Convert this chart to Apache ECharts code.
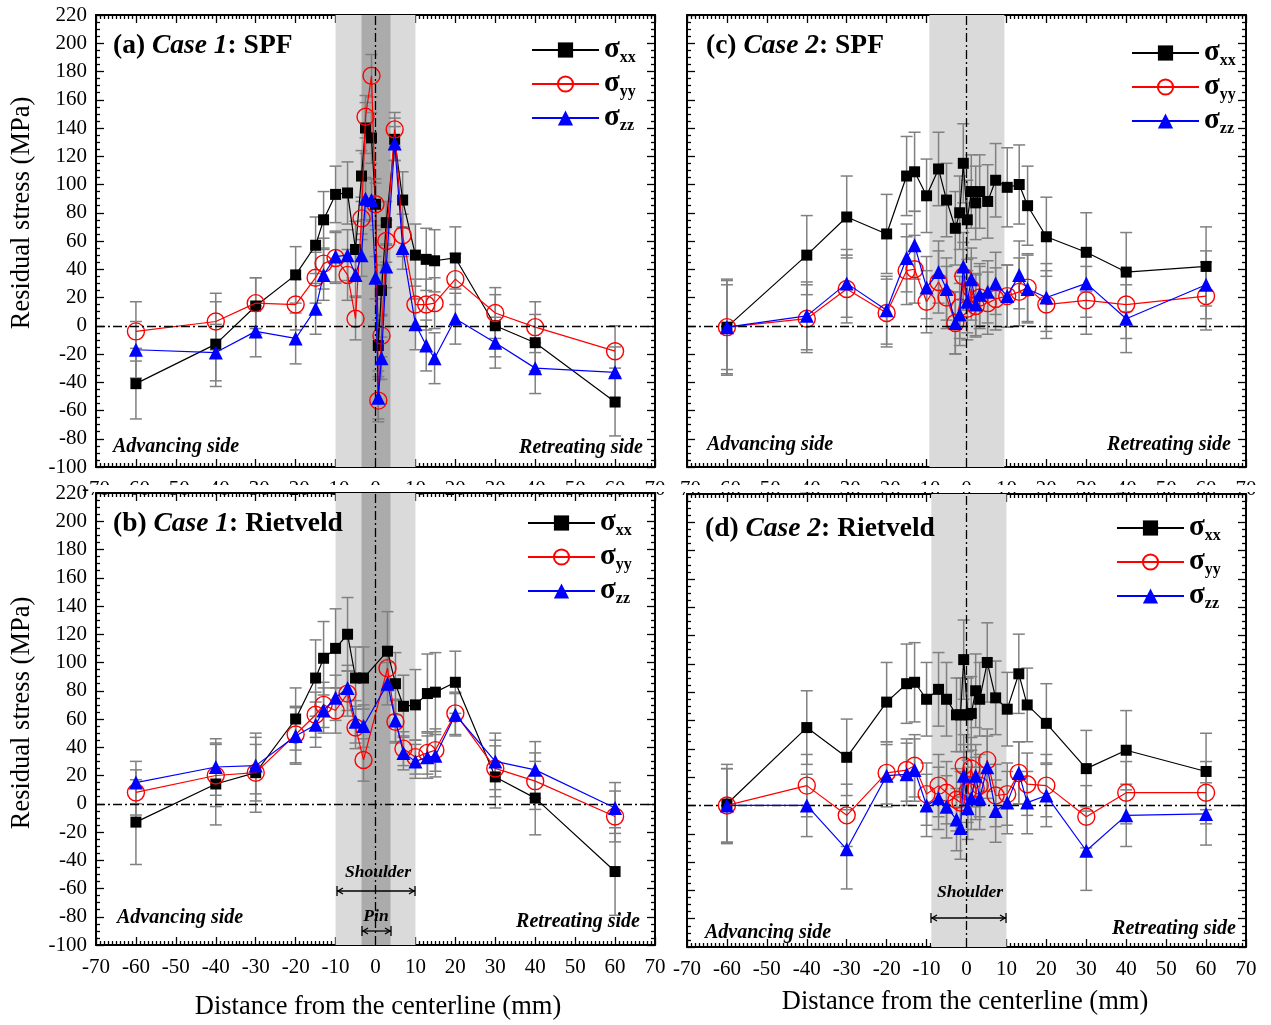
<!DOCTYPE html>
<html>
<head>
<meta charset="UTF-8">
<title>Residual stress</title>
<script src="https://cdn.jsdelivr.net/npm/echarts@6/dist/echarts.min.js"></script>
<style>
html, body { margin: 0; padding: 0; background: #fff; }
#main { width: 1271px; height: 1025px; }
</style>
</head>
<body>
<div id="main"></div>
<script>
// (a) Case 1: SPF
var xA  = [-60, -40, -30, -20, -15, -13, -10, -7, -5, -3.5, -2.5, -1, 0, 0.7, 1.5, 2.7, 4.8, 6.8, 10, 12.7, 14.8, 20, 30, 40, 60];
var xxA = [-41, -13, 14, 36, 57, 75, 93, 94, 54, 106, 140, 133, 86, -14, 25, 73, 132, 89, 50, 47, 46, 48, 0, -12, -54];
var yyA = [-4, 3, 16, 15, 34, 44, 48, 36, 5, 76, 148, 177, 86, -53, -7, 60, 139, 64, 15, 15, 16, 33, 9, -1, -18];
var zzA = [-17, -19, -4, -9, 12, 36, 49, 50, 36, 50, 90, 89, 34, -51, -23, 42, 129, 55, 1, -14, -23, 5, -12, -30, -33];
var exA = [25, 30, 20, 20, 20, 20, 20, 22, 20, 18, 18, 18, 18, 18, 18, 15, 15, 20, 22, 22, 22, 22, 22, 20, 24];
var eyA = [21, 20, 18, 18, 18, 18, 18, 18, 15, 15, 15, 15, 15, 15, 15, 15, 12, 15, 18, 18, 18, 18, 18, 18, 18];
var ezA = [20, 20, 18, 18, 18, 18, 18, 18, 15, 15, 15, 15, 15, 15, 15, 15, 12, 15, 18, 18, 18, 18, 18, 18, 18];

// (b) Case 1: Rietveld
var xB  = [-60, -40, -30, -20, -15, -13, -10, -7, -5, -3, 3, 5, 7, 10, 13, 15, 20, 30, 40, 60];
var xxB = [-13, 14, 22, 60, 89, 103, 110, 120, 89, 89, 108, 85, 69, 70, 78, 79, 86, 19, 4, -48];
var yyB = [8, 20, 22, 49, 63, 70, 66, 78, 54, 31, 96, 58, 39, 33, 36, 38, 64, 25, 16, -9];
var zzB = [15, 26, 27, 48, 56, 66, 75, 82, 58, 55, 85, 59, 36, 30, 33, 34, 63, 30, 24, -3];
var exB = [30, 29, 28, 22, 27, 26, 28, 26, 22, 22, 28, 22, 22, 25, 28, 28, 22, 22, 26, 31];
var eyB = [16, 22, 20, 20, 16, 16, 16, 16, 15, 15, 15, 15, 12, 12, 15, 15, 15, 20, 20, 18];
var ezB = [15, 20, 20, 20, 16, 16, 16, 16, 15, 15, 15, 15, 12, 12, 15, 15, 15, 20, 20, 18];

// (c) Case 2: SPF
var xC  = [-60, -40, -30, -20, -15, -13, -10, -7, -5, -2.8, -1.7, -0.8, 0.2, 1.2, 2.3, 3.3, 5.3, 7.3, 10.2, 13.2, 15.3, 20, 30, 40, 60];
var xxC = [-1, 50, 77, 65, 106, 109, 92, 111, 89, 69, 80, 115, 75, 95, 87, 95, 88, 103, 98, 100, 85, 63, 52, 38, 42];
var yyC = [-1, 5, 26, 9, 39, 40, 17, 31, 20, 2, 13, 35, 12, 26, 14, 20, 16, 19, 21, 24, 27, 15, 18, 15, 21];
var zzC = [-1, 7, 30, 11, 48, 57, 27, 38, 26, 2, 8, 42, 17, 33, 15, 22, 24, 30, 21, 36, 26, 20, 30, 5, 29];
var exC = [34, 28, 29, 28, 28, 28, 26, 26, 26, 26, 26, 28, 28, 26, 26, 26, 26, 26, 28, 28, 28, 28, 28, 28, 28];
var eyC = [33, 24, 24, 24, 24, 24, 22, 22, 22, 22, 22, 24, 22, 22, 22, 22, 22, 22, 22, 24, 24, 24, 24, 24, 24];
var ezC = [30, 24, 24, 24, 24, 24, 22, 22, 22, 22, 22, 24, 22, 22, 22, 22, 22, 22, 22, 24, 24, 24, 24, 24, 24];

// (d) Case 2: Rietveld
var xD  = [-60, -40, -30, -20, -15, -13, -10, -7, -5, -2.5, -1.5, -0.7, 0.3, 1.2, 2.3, 3.3, 5.2, 7.3, 10.2, 13.1, 15.2, 20, 30, 40, 60];
var xxD = [1, 55, 34, 73, 86, 87, 75, 82, 75, 64, 64, 103, 64, 65, 81, 75, 101, 76, 68, 93, 71, 58, 26, 39, 24];
var yyD = [0, 14, -7, 23, 25, 28, 8, 14, 9, 4, 2, 28, 10, 26, 12, 14, 32, 7, 8, 23, 15, 14, -8, 9, 9];
var zzD = [0, 0, -31, 21, 22, 25, 0, 5, -1, -10, -16, 21, -2, 5, 21, 5, 27, -4, 2, 23, 2, 7, -32, -7, -6];
var exD = [28, 26, 27, 28, 28, 28, 26, 26, 26, 26, 26, 28, 26, 26, 26, 26, 28, 26, 26, 28, 26, 28, 27, 28, 27];
var eyD = [26, 22, 22, 22, 22, 22, 22, 22, 22, 22, 22, 22, 22, 22, 22, 22, 22, 22, 22, 22, 22, 22, 22, 22, 22];
var ezD = [26, 22, 28, 22, 22, 22, 22, 22, 22, 22, 22, 22, 22, 22, 22, 22, 22, 22, 22, 22, 22, 22, 28, 22, 22];

var SERIF = '"Liberation Serif", "DejaVu Serif", serif';

var panels = [
	{ x: xA, xx: xxA, yy: yyA, zz: zzA, ex: exA, ey: eyA, ez: ezA, grid: { left: 96, top: 15, width: 559, height: 452 }, pin: [-3.5, 3.75], shoulder: [-10, 10], yLabels: true, legend: [526, 27] },
	{ x: xB, xx: xxB, yy: yyB, zz: zzB, ex: exB, ey: eyB, ez: ezB, grid: { left: 96, top: 493, width: 559, height: 452 }, pin: [-3.5, 3.75], shoulder: [-10, 10], yLabels: true, legend: [522, 500] },
	{ x: xC, xx: xxC, yy: yyC, zz: zzC, ex: exC, ey: eyC, ez: ezC, grid: { left: 687, top: 15, width: 559, height: 452 }, pin: null, shoulder: [-9.3, 9.5], yLabels: false, legend: [1126, 30] },
	{ x: xD, xx: xxD, yy: yyD, zz: zzD, ex: exD, ey: eyD, ez: ezD, grid: { left: 687, top: 494, width: 559, height: 453 }, pin: null, shoulder: [-8.8, 10], yLabels: false, legend: [1111, 505] }
];

function zip2(xs, ys) {
	var out = [];
	for (var i = 0; i < xs.length; i++) out.push([xs[i], ys[i]]);
	return out;
}
function zip3(xs, ys, es) {
	var out = [];
	for (var i = 0; i < xs.length; i++) out.push([xs[i], ys[i], es[i]]);
	return out;
}

function renderErr(params, api) {
	var x = api.value(0), y = api.value(1), e = api.value(2);
	var hi = api.coord([x, y + e]);
	var lo = api.coord([x, y - e]);
	var w = 6;
	var st = { stroke: '#808080', lineWidth: 1.5 };
	return {
		type: 'group',
		children: [
			{ type: 'line', shape: { x1: hi[0], y1: hi[1], x2: lo[0], y2: lo[1] }, style: st },
			{ type: 'line', shape: { x1: hi[0] - w, y1: hi[1], x2: hi[0] + w, y2: hi[1] }, style: st },
			{ type: 'line', shape: { x1: lo[0] - w, y1: lo[1], x2: lo[0] + w, y2: lo[1] }, style: st }
		]
	};
}

var grids = [], xAxes = [], yAxes = [], series = [], legends = [];
var tickStyle = { color: '#000', width: 1.3 };

panels.forEach(function (p, g) {
	grids.push(p.grid);
	xAxes.push({
		gridIndex: g, type: 'value', min: -70, max: 70, interval: 10, position: 'bottom',
		axisLine: { onZero: false, lineStyle: { color: '#000', width: 2 } },
		axisTick: { inside: true, length: 8, lineStyle: tickStyle },
		minorTick: { show: true, splitNumber: 10, length: 4, lineStyle: tickStyle },
		axisLabel: { show: true, fontFamily: SERIF, fontSize: 21, color: '#000', margin: 12 },
		splitLine: { show: false }
	});
	xAxes.push({
		gridIndex: g, type: 'value', min: -70, max: 70, interval: 10, position: 'top',
		axisLine: { onZero: false, lineStyle: { color: '#000', width: 2 } },
		axisTick: { inside: true, length: 8, lineStyle: tickStyle },
		minorTick: { show: true, splitNumber: 10, length: 4, lineStyle: tickStyle },
		axisLabel: { show: false },
		splitLine: { show: false }
	});
	yAxes.push({
		gridIndex: g, type: 'value', min: -100, max: 220, interval: 20, position: 'left',
		axisLine: { onZero: false, lineStyle: { color: '#000', width: 2 } },
		axisTick: { inside: true, length: 8, lineStyle: tickStyle },
		minorTick: { show: true, splitNumber: 4, length: 4, lineStyle: tickStyle },
		axisLabel: { show: p.yLabels, fontFamily: SERIF, fontSize: 21, color: '#000', margin: 9 },
		splitLine: { show: false }
	});
	yAxes.push({
		gridIndex: g, type: 'value', min: -100, max: 220, interval: 20, position: 'right',
		axisLine: { onZero: false, lineStyle: { color: '#000', width: 2 } },
		axisTick: { inside: true, length: 8, lineStyle: tickStyle },
		minorTick: { show: true, splitNumber: 4, length: 4, lineStyle: tickStyle },
		axisLabel: { show: false },
		splitLine: { show: false }
	});

	var xi = g * 2, yi = g * 2;

	// shaded tool regions
	var areas = [[{ xAxis: p.shoulder[0], itemStyle: { color: '#dadada' } }, { xAxis: p.shoulder[1] }]];
	if (p.pin) areas.push([{ xAxis: p.pin[0], itemStyle: { color: '#ababab' } }, { xAxis: p.pin[1] }]);
	series.push({
		type: 'line', xAxisIndex: xi, yAxisIndex: yi, data: [], z: 0, silent: true,
		markArea: { silent: true, data: areas }
	});
	// centre and zero lines
	series.push({
		type: 'line', xAxisIndex: xi, yAxisIndex: yi, data: [], z: 1, silent: true,
		markLine: {
			silent: true, symbol: 'none', label: { show: false },
			lineStyle: { color: '#000', width: 1.3, type: [9, 3, 2, 3] },
			data: [{ xAxis: 0 }, { yAxis: 0 }]
		}
	});

	// error bars
	[[p.xx, p.ex], [p.yy, p.ey], [p.zz, p.ez]].forEach(function (s) {
		series.push({
			type: 'custom', xAxisIndex: xi, yAxisIndex: yi, z: 2, silent: true,
			renderItem: renderErr, data: zip3(p.x, s[0], s[1])
		});
	});

	series.push({
		name: 'xx', type: 'line', xAxisIndex: xi, yAxisIndex: yi, z: 3,
		data: zip2(p.x, p.xx), symbol: 'rect', symbolSize: 11,
		itemStyle: { color: '#000' }, lineStyle: { color: '#000', width: 1.2 }
	});
	series.push({
		name: 'yy', type: 'line', xAxisIndex: xi, yAxisIndex: yi, z: 4,
		data: zip2(p.x, p.yy), symbol: 'circle', symbolSize: 17,
		itemStyle: { color: 'rgba(255,255,255,0)', borderColor: '#ff0000', borderWidth: 1.4 },
		lineStyle: { color: '#ff0000', width: 1.2 }
	});
	series.push({
		name: 'zz', type: 'line', xAxisIndex: xi, yAxisIndex: yi, z: 5,
		data: zip2(p.x, p.zz), symbol: 'triangle', symbolSize: 14,
		itemStyle: { color: '#0000ff' }, lineStyle: { color: '#0000ff', width: 1.2 }
	});

	legends.push({
		left: p.legend[0], top: p.legend[1], orient: 'vertical', selectedMode: false,
		itemWidth: 67, itemHeight: 19, itemGap: 0,
		data: ['xx', 'yy', 'zz'],
		formatter: function (n) { return '{s|σ}{t|' + n + '}'; },
		textStyle: {
			rich: {
				s: { fontFamily: SERIF, fontSize: 29, fontWeight: 'bold', color: '#000', lineHeight: 32 },
				t: { fontFamily: SERIF, fontSize: 16, fontWeight: 'bold', color: '#000', lineHeight: 16, verticalAlign: 'bottom', padding: [18, 0, 0, 0] }
			}
		}
	});
});

function txt(x, y, text, opts) {
	var style = { x: 0, y: 0, text: text, fill: '#000', font: opts.font, textAlign: opts.align || 'left', textVerticalAlign: 'middle' };
	if (opts.rich) style.rich = opts.rich;
	var el = { type: 'text', z: 100, x: x, y: y, style: style };
	if (opts.rotation) el.rotation = opts.rotation;
	return el;
}

var titleRich = {
	n: { fontFamily: SERIF, fontSize: 27.5, fontWeight: 'bold', color: '#000' },
	i: { fontFamily: SERIF, fontSize: 27.5, fontWeight: 'bold', fontStyle: 'italic', color: '#000' }
};
var sideFont = 'italic bold 20px ' + SERIF;
var axisFont = '26.5px ' + SERIF;
var toolFont = 'italic bold 17.5px ' + SERIF;

var graphics = [
	// hides most of the top panels' tick labels, as in the original figure
	{ type: 'rect', z: 50, shape: { x: 92, y: 485, width: 1179, height: 7 }, style: { fill: '#fff' } },

	txt(113, 46, '{n|(a) }{i|Case 1}{n|: SPF}', { rich: titleRich }),
	txt(113, 524, '{n|(b) }{i|Case 1}{n|: Rietveld}', { rich: titleRich }),
	txt(706, 46, '{n|(c) }{i|Case 2}{n|: SPF}', { rich: titleRich }),
	txt(705, 529, '{n|(d) }{i|Case 2}{n|: Rietveld}', { rich: titleRich }),

	txt(113, 447, 'Advancing side', { font: sideFont }),
	txt(643, 448, 'Retreating side', { font: sideFont, align: 'right' }),
	txt(117, 918, 'Advancing side', { font: sideFont }),
	txt(640, 922, 'Retreating side', { font: sideFont, align: 'right' }),
	txt(707, 445, 'Advancing side', { font: sideFont }),
	txt(1231, 445, 'Retreating side', { font: sideFont, align: 'right' }),
	txt(705, 933, 'Advancing side', { font: sideFont }),
	txt(1236, 929, 'Retreating side', { font: sideFont, align: 'right' }),

	txt(378, 872, 'Shoulder', { font: toolFont, align: 'center' }),
	txt(376, 916, 'Pin', { font: toolFont, align: 'center' }),
	txt(970, 892, 'Shoulder', { font: toolFont, align: 'center' }),

	txt(22, 213, 'Residual stress (MPa)', { font: axisFont, align: 'center', rotation: Math.PI / 2 }),
	txt(22, 713, 'Residual stress (MPa)', { font: axisFont, align: 'center', rotation: Math.PI / 2 }),
	txt(378, 1007, 'Distance from the centerline (mm)', { font: axisFont, align: 'center' }),
	txt(965, 1002, 'Distance from the centerline (mm)', { font: axisFont, align: 'center' })
];

// double headed dimension arrows with end bars
function dimArrow(x1, x2, y) {
	var st = { stroke: '#000', lineWidth: 1.3 };
	var h = 5, a = 6;
	return [
		{ type: 'line', z: 100, shape: { x1: x1, y1: y, x2: x2, y2: y }, style: st },
		{ type: 'line', z: 100, shape: { x1: x1, y1: y - h, x2: x1, y2: y + h }, style: st },
		{ type: 'line', z: 100, shape: { x1: x2, y1: y - h, x2: x2, y2: y + h }, style: st },
		{ type: 'polyline', z: 100, shape: { points: [[x1 + a, y - 3], [x1 + 1, y], [x1 + a, y + 3]] }, style: st },
		{ type: 'polyline', z: 100, shape: { points: [[x2 - a, y - 3], [x2 - 1, y], [x2 - a, y + 3]] }, style: st }
	];
}
graphics = graphics.concat(dimArrow(337, 415, 891), dimArrow(362, 391, 931), dimArrow(931, 1006, 918));

var myChart = echarts.init(document.getElementById('main'));
myChart.setOption({
	animation: false,
	backgroundColor: '#fff',
	grid: grids,
	xAxis: xAxes,
	yAxis: yAxes,
	legend: legends,
	series: series,
	graphic: graphics
});
</script>
</body>
</html>
